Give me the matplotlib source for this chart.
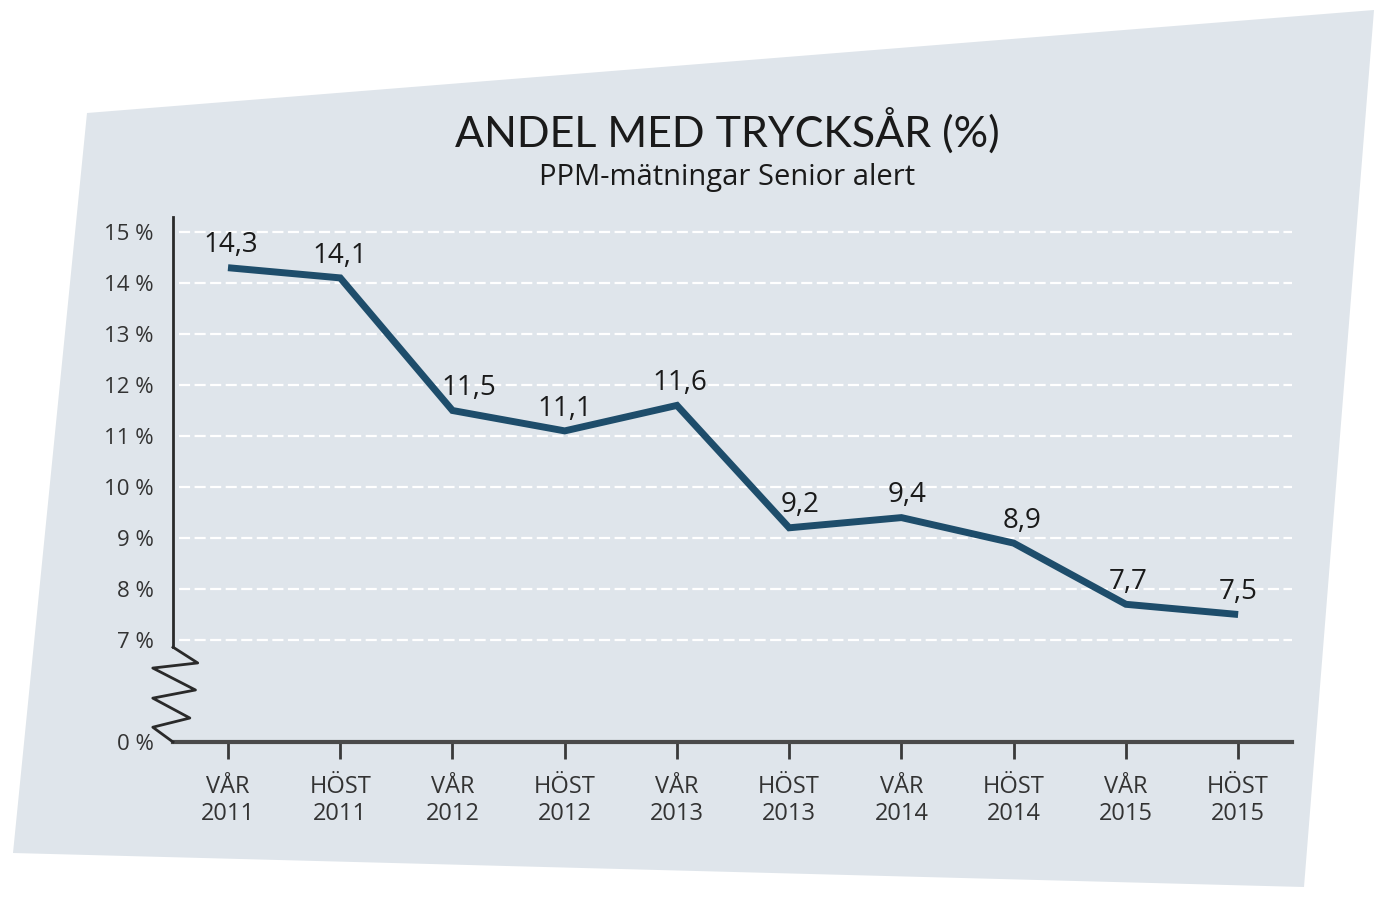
import matplotlib.pyplot as plt
from matplotlib.patches import Polygon
import numpy as np

# ── DATA ──────────────────────────────────────────────────────────────────────
seasons = ['VÅR', 'HÖST', 'VÅR', 'HÖST', 'VÅR', 'HÖST', 'VÅR', 'HÖST', 'VÅR', 'HÖST']
years = ['2011', '2011', '2012', '2012', '2013', '2013', '2014', '2014', '2015', '2015']
values = [14.3, 14.1, 11.5, 11.1, 11.6, 9.2, 9.4, 8.9, 7.7, 7.5]
labels = ['14,3', '14,1', '11,5', '11,1', '11,6', '9,2', '9,4', '8,9', '7,7', '7,5']

# y-axis is broken: everything from 0 to 7 % is squeezed, 0 % sits at 5 on the scale
ytick_vals = [5, 7, 8, 9, 10, 11, 12, 13, 14, 15]
ytick_labels = ['0 %', '7 %', '8 %', '9 %', '10 %', '11 %', '12 %', '13 %', '14 %', '15 %']
grid_vals = [7, 8, 9, 10, 11, 12, 13, 14, 15]

# small label nudges (points)
label_dx = [2, 0, 12, 0, 2, 8, 4, 6, 2, 0]

W, H = 1375, 901
fig = plt.figure(figsize=(W / 100, H / 100), dpi=100)
fig.patch.set_facecolor('white')

# skewed background card (pixel corners -> figure fraction)
corners = [(87, 113), (1374, 10), (1304, 887), (13, 853)]
card = Polygon([(x / W, 1 - y / H) for x, y in corners], closed=True,
               transform=fig.transFigure, facecolor='#dfe5eb', edgecolor='none', zorder=-5)
fig.patches.append(card)

ax = fig.add_axes([173 / W, 1 - 742 / H, 1119 / W, 524 / H])
ax.set_zorder(2)
ax.set_facecolor('none')
ax.set_xlim(-0.49, 9.48)
ax.set_ylim(5, 5 + 524 / 51)

# dashed white grid
ax.hlines(grid_vals, 0.05 - 0.49, 9.5, colors='white', linewidth=1.6,
          linestyles=(0, (5, 2)), zorder=1)

x = np.arange(len(values))
ax.plot(x, values, color='#1e4d6b', linewidth=5, solid_joinstyle='miter',
        solid_capstyle='butt', zorder=3)

for xi, v, lab, dx in zip(x, values, labels, label_dx):
    ax.annotate(lab, (xi, v), xytext=(dx, 6), textcoords='offset points',
                ha='center', va='bottom', fontsize=20, color='#1a1a1a',
                family='Open Sans', zorder=4)

# spines
for s in ['top', 'right']:
    ax.spines[s].set_visible(False)
ax.spines['left'].set_bounds(6.86, 15.3)
ax.spines['left'].set_linewidth(2)
ax.spines['left'].set_color('#2a2a2a')
ax.spines['bottom'].set_linewidth(3)
ax.spines['bottom'].set_color('#4a4a4a')

# zigzag axis break between 7 % and 0 %
zx = np.array([0, 0.22, -0.18, 0.20, -0.18, 0.15, -0.18, 0]) - 0.49
zy = [6.86, 6.55, 6.45, 6.02, 5.86, 5.47, 5.29, 5.0]
ax.plot(zx, zy, color='#2a2a2a', linewidth=2, clip_on=False, zorder=5)

ax.set_yticks(ytick_vals)
ax.set_yticklabels(ytick_labels, family='Open Sans', fontsize=16, color='#333333')
ax.tick_params(axis='y', length=0, pad=14)

ax.set_xticks(x)
ax.set_xticklabels([f'{s}\n{y}' for s, y in zip(seasons, years)],
                   family='Open Sans', fontsize=17, color='#333333', linespacing=1.15)
ax.tick_params(axis='x', length=12, width=2, color='#3a3a3a', direction='out', pad=12)

fig.text(727 / W, 1 - 131 / H, 'ANDEL MED TRYCKSÅR (%)', ha='center', va='center',
         fontsize=31, family='Lato', color='#1a1a1a')
fig.text(727 / W, 1 - 178 / H, 'PPM-mätningar Senior alert', ha='center', va='center',
         fontsize=21, family='Open Sans', color='#1a1a1a')

fig.savefig('out.png', dpi=100, facecolor=fig.get_facecolor())
